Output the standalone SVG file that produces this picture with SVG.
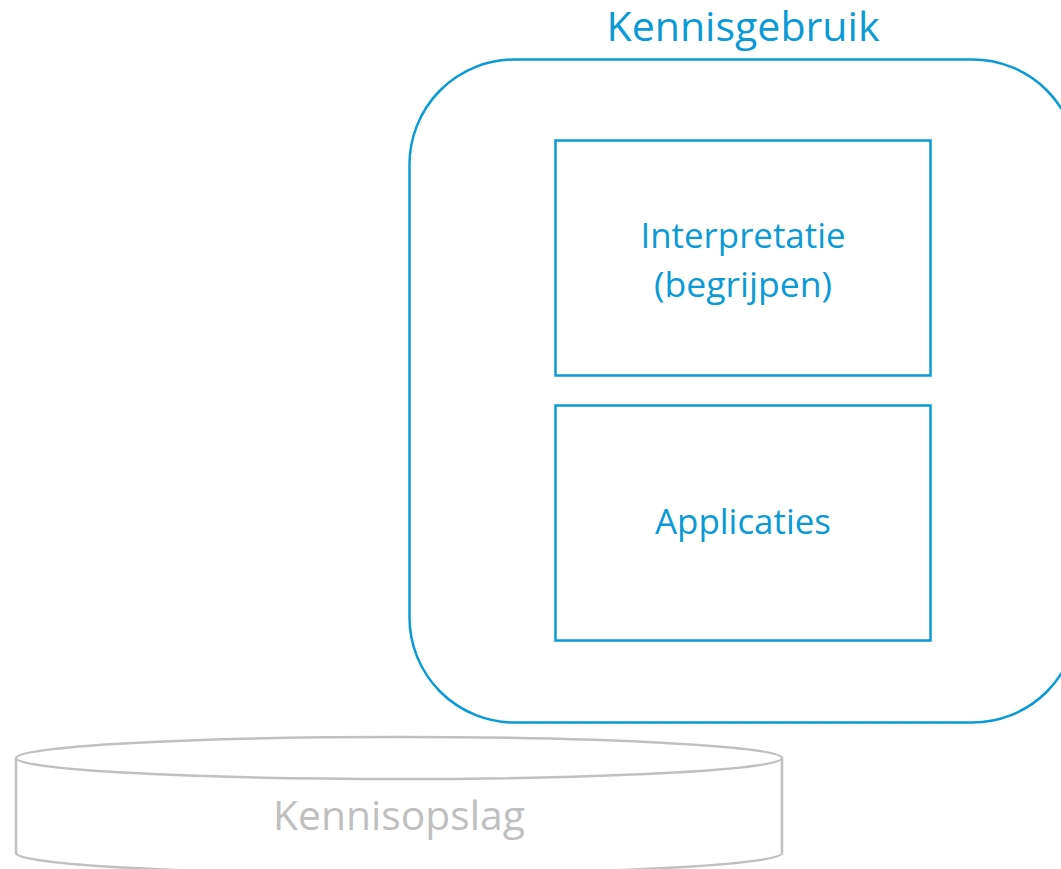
<svg xmlns="http://www.w3.org/2000/svg" width="1061" height="869" viewBox="0 0 1061 869">
<style>
.b{fill:none;stroke:#0a9ad6;stroke-width:2.5}
.t{font-family:"Open Sans","Liberation Sans",sans-serif;fill:#0a9ad6;text-anchor:middle}
.g{fill:#fff;stroke:#c0c0c0;stroke-width:2.5}
</style>
<rect width="1061" height="869" fill="#fff"/>
<g id="kennisgebruik">
<rect class="b" x="409.5" y="59.5" width="668" height="663" rx="105" ry="105"/>
<text class="t" x="743" y="41" font-size="40" textLength="273" lengthAdjust="spacingAndGlyphs">Kennisgebruik</text>
</g>
<g id="interpretatie">
<rect class="b" x="555.5" y="140.5" width="375" height="235"/>
<text class="t" x="743" y="248" font-size="34" textLength="205" lengthAdjust="spacingAndGlyphs">Interpretatie</text>
<text class="t" x="743" y="297" font-size="34" textLength="178" lengthAdjust="spacingAndGlyphs">(begrijpen)</text>
</g>
<g id="applicaties">
<rect class="b" x="555.5" y="405.5" width="375" height="235"/>
<text class="t" x="743" y="534" font-size="34" textLength="176" lengthAdjust="spacingAndGlyphs">Applicaties</text>
</g>
<g id="kennisopslag">
<path class="g" d="M16,758 L16,853 A383,21 0 0 0 782,853 L782,758"/>
<ellipse class="g" cx="399" cy="758" rx="383" ry="21"/>
<text class="t" x="399" y="830" font-size="40" textLength="252" lengthAdjust="spacingAndGlyphs" style="fill:#bfbfbf">Kennisopslag</text>
</g>
<g id="connectors"></g>
</svg>
